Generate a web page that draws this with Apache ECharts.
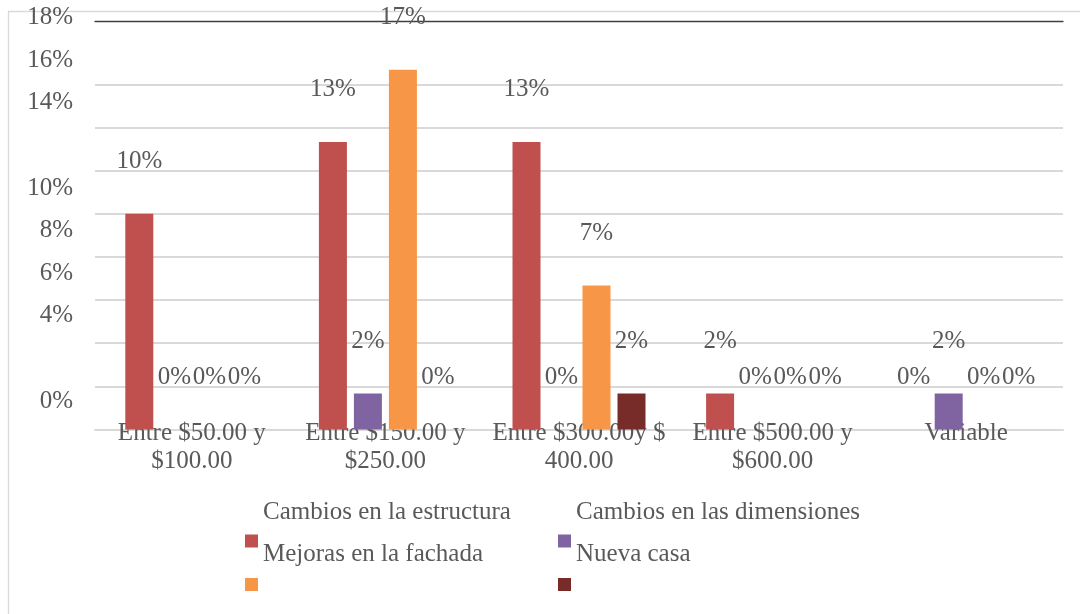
<!DOCTYPE html>
<html>
<head>
<meta charset="utf-8">
<script src="https://cdn.jsdelivr.net/npm/echarts@6/dist/echarts.min.js"></script>
<style>
html,body{margin:0;padding:0;background:#fff;}
#chart{width:1080px;height:614px;}
</style>
</head>
<body>
<div id="chart"></div>
<script>
const categories = ['Entre $50.00 y\n$100.00', 'Entre $150.00 y\n$250.00', 'Entre $300.00y $\n400.00', 'Entre $500.00 y\n$600.00', 'Variable'];
const seriesNames = ['Cambios en la estructura', 'Cambios en las dimensiones', 'Mejoras en la fachada', 'Nueva casa'];
const estructura = [0.1, 0.1333, 0.1333, 0.0167, 0];
const dimensiones = [0, 0.0167, 0, 0, 0.0167];
const fachada = [0, 0.1667, 0.0667, 0, 0];
const nuevaCasa = [0, 0, 0.0167, 0, 0];
const yTickLabels = ['0%', '', '4%', '6%', '8%', '10%', '', '14%', '16%', '18%'];
const colors = ['#C0504D', '#8064A2', '#F79646', '#772C2A'];

const FONT = "'Liberation Serif', 'Times New Roman', serif";
const TXT = '#595959';
const chart = echarts.init(document.getElementById('chart'), null, {renderer: 'canvas'});

const valuesList = [estructura, dimensiones, fachada, nuevaCasa];
const series = valuesList.map((vals, i) => ({
  name: seriesNames[i],
  type: 'bar',
  xAxisIndex: 0,
  yAxisIndex: 0,
  data: vals,
  barWidth: 28,
  barGap: '25%',
  clip: false,
  itemStyle: {color: colors[i]},
  label: {
    show: true,
    position: 'top',
    distance: 40,
    fontFamily: FONT,
    fontSize: 25,
    lineHeight: 25,
    color: TXT,
    formatter: p => Math.round(p.value * 100) + '%'
  }
}));

const richLegend = {
  a: {fontFamily: FONT, fontSize: 25, color: TXT, lineHeight: 42},
  b: {fontFamily: FONT, fontSize: 25, color: TXT, lineHeight: 42},
  c: {fontFamily: FONT, fontSize: 10, color: TXT, lineHeight: 16}
};
function legendCfg(idx, left, top, withText, pairIdx) {
  return {
    data: [seriesNames[idx]],
    left: left, top: top, padding: 0,
    icon: 'rect', itemWidth: 13, itemHeight: 13,
    formatter: withText ? (() => '{a|' + seriesNames[idx] + '}\n{b|' + seriesNames[pairIdx] + '}\n{c| }') : (() => ' '),
    textStyle: withText ? {rich: richLegend} : {fontSize: 13, lineHeight: 13, color: TXT}
  };
}

chart.setOption({
  animation: false,
  backgroundColor: '#fff',
  graphic: [{
    type: 'rect', z: -10,
    shape: {x: 8.5, y: 11.5, width: 1200, height: 800},
    style: {fill: 'none', stroke: '#d9d9d9', lineWidth: 1.3}
  }],
  grid: [
    {left: 95, right: 17, top: 84.3, bottom: 184.5},
    {left: 95, right: 17, top: 17.5, bottom: 213}
  ],
  xAxis: [
    {
      type: 'category', gridIndex: 0, data: categories,
      axisLine: {show: true, lineStyle: {color: '#d9d9d9', width: 2}},
      axisTick: {show: false},
      axisLabel: {interval: 0, margin: -10, fontFamily: FONT, fontSize: 25, lineHeight: 28, color: TXT}
    },
    {
      type: 'category', gridIndex: 0, data: categories, position: 'top', offset: 63,
      axisLine: {show: true, lineStyle: {color: '#404040', width: 1.3}},
      axisTick: {show: false}, axisLabel: {show: false}
    },
    {type: 'category', gridIndex: 1, data: categories, show: false}
  ],
  yAxis: [
    {
      type: 'value', gridIndex: 0, min: 0, max: 0.16, interval: 0.02,
      axisLabel: {show: false}, axisLine: {show: false}, axisTick: {show: false},
      splitLine: {show: true, lineStyle: {color: '#d9d9d9', width: 2}}
    },
    {
      type: 'value', gridIndex: 1, min: 0, max: 0.18, interval: 0.02,
      axisLine: {show: false}, axisTick: {show: false}, splitLine: {show: false},
      axisLabel: {margin: 22, fontFamily: FONT, fontSize: 25, color: TXT,
        formatter: (v, i) => yTickLabels[Math.round(v / 0.02)] || ''}
    }
  ],
  legend: [
    legendCfg(0, 245, 499.5, true, 2),
    legendCfg(1, 558, 499.5, true, 3),
    legendCfg(2, 245, 578, false),
    legendCfg(3, 558, 578, false)
  ],
  series: series
});
</script>
</body>
</html>
